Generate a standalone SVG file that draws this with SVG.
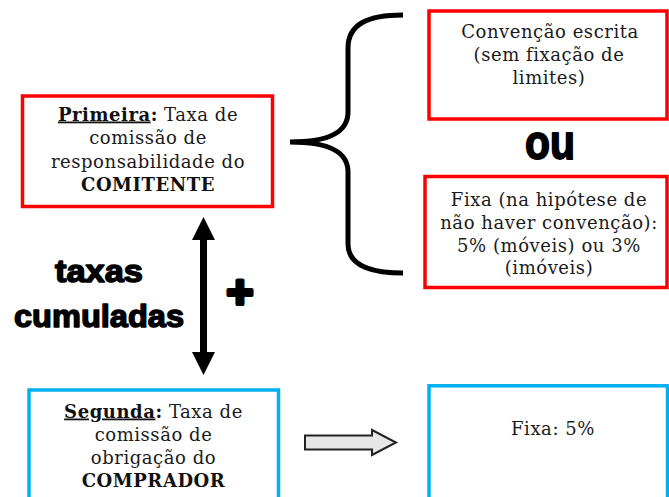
<svg xmlns="http://www.w3.org/2000/svg" width="669" height="497" viewBox="0 0 669 497">
<style>
.t{font-family:"DejaVu Serif","Liberation Serif",serif;font-size:18px;letter-spacing:0.55px;fill:#1a1a1a;text-anchor:middle}
.b{font-weight:bold;fill:#111}
.u{text-decoration:underline}
.red{fill:#fff;stroke:#ff0000;stroke-width:3.5}
.cyan{fill:#fff;stroke:#00b0f0;stroke-width:3.5}
.big{font-family:"Liberation Sans",Arial,sans-serif;font-weight:bold;fill:#000;stroke:#000;stroke-linejoin:round;text-anchor:middle}
</style>
<rect width="669" height="497" fill="#fff"/>
<g id="primeira">
<rect class="red" x="22.5" y="96" width="250" height="110.5"/>
<text class="t" x="148" y="120.5"><tspan class="b u">Primeira</tspan><tspan class="b">:</tspan> Taxa de</text>
<text class="t" x="148" y="144">comissão de</text>
<text class="t" x="148" y="167.5">responsabilidade do</text>
<text class="t b" x="148" y="191">COMITENTE</text>
</g>
<g id="convencao">
<rect class="red" x="429" y="11" width="238" height="108"/>
<text class="t" x="550" y="37.7">Convenção escrita</text>
<text class="t" x="549" y="61">(sem fixação de</text>
<text class="t" x="549" y="84.3">limites)</text>
</g>
<g id="ou">
<text class="big" x="550" y="159" font-size="49" stroke-width="1.8" textLength="50" lengthAdjust="spacingAndGlyphs">ou</text>
</g>
<g id="fixa1">
<rect class="red" x="425" y="176.5" width="242" height="111"/>
<text class="t" x="549" y="205.5">Fixa (na hipótese de</text>
<text class="t" x="549" y="228.5">não haver convenção):</text>
<text class="t" x="549" y="251.5">5% (móveis) ou 3%</text>
<text class="t" x="549" y="274">(imóveis)</text>
</g>
<g id="taxas">
<text class="big" x="99" y="281.7" font-size="32" stroke-width="1.5" textLength="88" lengthAdjust="spacingAndGlyphs">taxas</text>
<text class="big" x="99" y="326.7" font-size="32" stroke-width="1.5" textLength="170" lengthAdjust="spacingAndGlyphs">cumuladas</text>
<text class="big" x="240" y="308" font-size="46" stroke-width="4">+</text>
</g>
<g id="segunda">
<rect class="cyan" x="29" y="390" width="249.5" height="130"/>
<text class="t" x="153.5" y="417.5"><tspan class="b u">Segunda</tspan><tspan class="b">:</tspan> Taxa de</text>
<text class="t" x="153.5" y="441">comissão de</text>
<text class="t" x="153.5" y="464">obrigação do</text>
<text class="t b" x="153.5" y="487">COMPRADOR</text>
</g>
<g id="fixa2">
<rect class="cyan" x="429" y="385.8" width="238.5" height="130"/>
<text class="t" x="553" y="435">Fixa: 5%</text>
</g>
<g id="connectors">
<path d="M403,15 C368,15 348,24 348,48 L348,112 C348,132 330,142 290,142 C330,142 348,152 348,172 L348,244 C348,264 368,273 403,273" fill="none" stroke="#000" stroke-width="5"/>
<path d="M203.5,217 L215,240 L207,240 L207,352 L215,352 L203.5,375 L192,352 L200,352 L200,240 L192,240 Z" fill="#000"/>
<path d="M305,435.5 L372,435.5 L372,430 L396,442.5 L372,455 L372,449.5 L305,449.5 Z" fill="#e6e6e6" stroke="#222" stroke-width="2" stroke-linejoin="miter"/>
</g>
</svg>
